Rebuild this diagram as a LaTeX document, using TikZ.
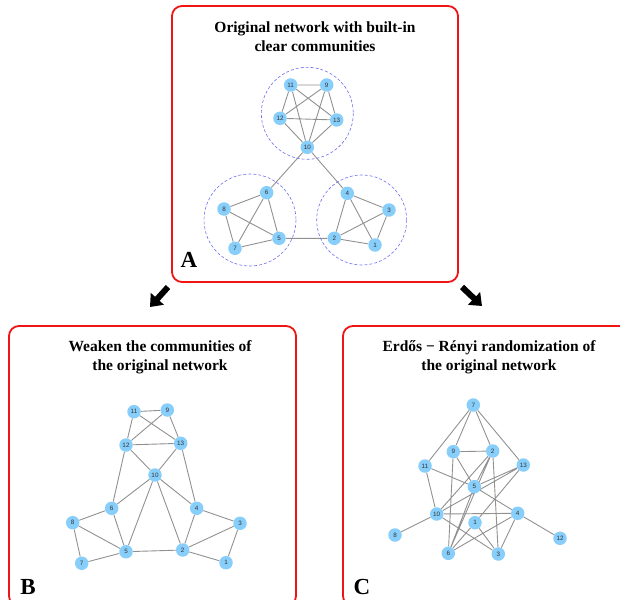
\documentclass[tikz,border=0pt]{standalone}
\usepackage{fontspec}
\setmainfont{Liberation Serif}
\newfontfamily\vertfont{Liberation Sans}
\usetikzlibrary{arrows.meta}
\pgfdeclarelayer{edges}
\pgfsetlayers{edges,main}
\definecolor{vertblue}{RGB}{135,206,250}
\definecolor{edgegray}{RGB}{145,145,145}
\definecolor{commblue}{RGB}{110,110,240}
\definecolor{panelred}{RGB}{240,20,20}

\begin{document}
\begin{tikzpicture}[x=1pt, y=-1pt,
  vert/.style={circle, fill=vertblue, inner sep=0pt, minimum size=13.5pt, font=\vertfont\fontsize{6.3}{6.3}\selectfont, text=black!80},
  edge/.style={draw=edgegray, line width=0.9pt},
  comm/.style={draw=commblue, dash pattern=on 3pt off 2pt, line width=0.6pt},
  panel/.style={draw=panelred, line width=1.8pt, rounded corners=10pt},
  title/.style={font=\bfseries\fontsize{15.5}{19}\selectfont, align=center},
  tag/.style={font=\bfseries\fontsize{23}{23}\selectfont},
  bigarrow/.style={line width=6pt, -{Triangle[length=11pt, width=17pt]}}
]
\useasboundingbox (0,0) rectangle (620,599);
\clip (0,0) rectangle (620,599);

% panels
\draw[panel] (172,6) rectangle (458,282);
\draw[panel] (9,326) rectangle (296,606);
\draw[panel] (343,326) rectangle (632,606);

\node[title] (ta) at (315,36.5) {Original network with built-in\\clear communities};
\node[title] (tb) at (160,357.5) {Weaken the communities of\\the original network};
\node[title] (tc) at (489,357.5) {Erdős − Rényi randomization of\\the original network};

\node[tag] (la) at (189,260) {A};
\node[tag] (lb) at (28,587) {B};
\node[tag] (lc) at (362,587) {C};

% arrows between panels
\coordinate (ab1) at (168,287);
\coordinate (ab2) at (150,307);
\coordinate (ac1) at (462,287);
\coordinate (ac2) at (482,306);
\draw[bigarrow] (ab1) -- (ab2);
\draw[bigarrow] (ac1) -- (ac2);

% A: original network
\draw[comm] (307.3,113.3) circle[radius=46];
\draw[comm] (250,220) circle[radius=46];
\draw[comm] (361.7,220) circle[radius=45];

\node[vert] (a1) at (375,245) {1};
\node[vert] (a2) at (334.3,238.3) {2};
\node[vert] (a3) at (389,210) {3};
\node[vert] (a4) at (347.3,193.3) {4};
\node[vert] (a5) at (279,238.3) {5};
\node[vert] (a6) at (266.7,192.7) {6};
\node[vert] (a7) at (235,248.3) {7};
\node[vert] (a8) at (224,209) {8};
\node[vert] (a9) at (326.7,85) {9};
\node[vert] (a10) at (307.3,147.3) {10};
\node[vert] (a11) at (290.7,85) {11};
\node[vert] (a12) at (280,118.3) {12};
\node[vert] (a13) at (336.7,120) {13};

\begin{pgfonlayer}{edges}
\draw[edge] (a11) -- (a9) (a11) -- (a12) (a11) -- (a13) (a11) -- (a10)
  (a9) -- (a12) (a9) -- (a13) (a9) -- (a10) (a12) -- (a13) (a12) -- (a10) (a13) -- (a10)
  (a10) -- (a6) (a10) -- (a4)
  (a6) -- (a8) (a6) -- (a7) (a6) -- (a5) (a8) -- (a7) (a8) -- (a5) (a7) -- (a5)
  (a4) -- (a3) (a4) -- (a2) (a4) -- (a1) (a3) -- (a2) (a3) -- (a1) (a2) -- (a1)
  (a5) -- (a2);
\end{pgfonlayer}

% B: weakened communities
\node[vert] (b1) at (226,562.7) {1};
\node[vert] (b2) at (182.7,550) {2};
\node[vert] (b3) at (240,523.3) {3};
\node[vert] (b4) at (196.7,508.3) {4};
\node[vert] (b5) at (126,551.7) {5};
\node[vert] (b6) at (111.7,508.3) {6};
\node[vert] (b7) at (81.7,563.3) {7};
\node[vert] (b8) at (72.7,522.7) {8};
\node[vert] (b9) at (167.3,410) {9};
\node[vert] (b10) at (155,475) {10};
\node[vert] (b11) at (134,411.7) {11};
\node[vert] (b12) at (126,445) {12};
\node[vert] (b13) at (180.7,443.3) {13};

\begin{pgfonlayer}{edges}
\draw[edge] (b11) -- (b9) (b11) -- (b12) (b11) -- (b13) (b9) -- (b12) (b9) -- (b13)
  (b12) -- (b13) (b12) -- (b10) (b13) -- (b10) (b12) -- (b6) (b13) -- (b4)
  (b10) -- (b6) (b10) -- (b5) (b10) -- (b2) (b10) -- (b4)
  (b6) -- (b8) (b6) -- (b5) (b8) -- (b5) (b8) -- (b7) (b7) -- (b5) (b5) -- (b2)
  (b4) -- (b3) (b4) -- (b2) (b3) -- (b2) (b3) -- (b1) (b2) -- (b1);
\end{pgfonlayer}

% C: Erdos-Renyi randomization
\node[vert] (c1) at (475,522.7) {1};
\node[vert] (c2) at (492.7,451) {2};
\node[vert] (c3) at (498.3,554) {3};
\node[vert] (c4) at (517.7,513.3) {4};
\node[vert] (c5) at (474.3,486.7) {5};
\node[vert] (c6) at (448.3,553.3) {6};
\node[vert] (c7) at (473.3,405) {7};
\node[vert] (c8) at (395,535) {8};
\node[vert] (c9) at (453.3,451.7) {9};
\node[vert] (c10) at (436.7,514) {10};
\node[vert] (c11) at (425,466) {11};
\node[vert] (c12) at (560,538.3) {12};
\node[vert] (c13) at (523.3,465) {13};

\begin{pgfonlayer}{edges}
\draw[edge] (c7) -- (c11) (c7) -- (c9) (c7) -- (c2) (c7) -- (c13)
  (c9) -- (c2) (c9) -- (c5) (c9) -- (c6)
  (c2) -- (c3) (c2) -- (c10) (c2) -- (c5) (c2) -- (c6)
  (c11) -- (c5) (c11) -- (c10) (c13) -- (c5) (c13) -- (c10) (c13) -- (c1)
  (c5) -- (c4) (c5) -- (c6) (c10) -- (c4) (c10) -- (c8) (c10) -- (c3)
  (c4) -- (c12) (c4) -- (c3) (c4) -- (c6) (c1) -- (c3) (c1) -- (c6);
\end{pgfonlayer}
\end{tikzpicture}
\end{document}
